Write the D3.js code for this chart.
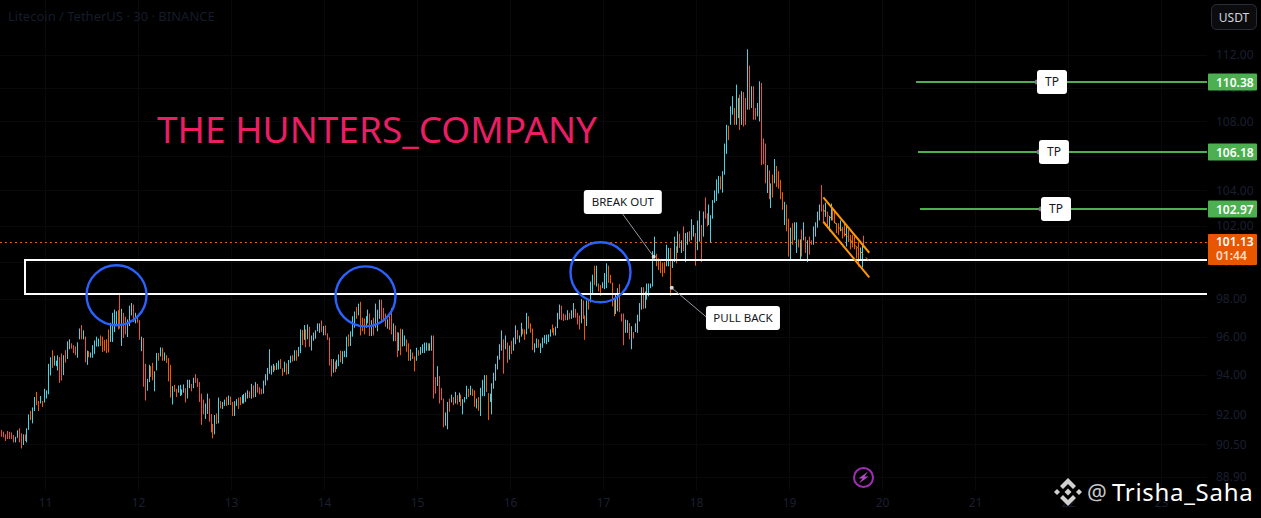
<!DOCTYPE html>
<html lang="en">
<head>
    <meta charset="UTF-8">
    <title>Litecoin / TetherUS - THE HUNTERS_COMPANY</title>
    <script src="https://d3js.org/d3.v7.min.js"></script>
    <style>
        html, body { margin: 0; padding: 0; background: #000; overflow: hidden; }
        svg { display: block; }
        text { font-family: "Noto Sans", sans-serif; }
        .axis text { fill: #1a1f30; font-size: 12px; }
        .axis path, .axis line { display: none; }
        .grid line { stroke: #08090c; stroke-width: 1px; shape-rendering: crispEdges; }
    </style>
</head>
<body>
    <div id="chart"></div>
    <script>
        // 30 minute bars, oldest first
        var barHigh = [
            91.22,91.13,91.00,91.17,91.13,91.10,90.97,90.88,91.20,91.30,
            91.05,91.00,91.00,91.30,92.00,92.18,92.35,92.88,93.14,92.68,
            92.93,92.68,93.30,93.22,94.58,94.92,95.29,95.00,94.75,95.02,
            94.93,95.12,95.03,95.29,95.75,95.86,95.65,95.55,95.49,95.70,
            96.43,96.61,96.33,96.00,95.27,95.24,95.17,95.55,95.80,96.00,
            95.90,96.06,96.00,95.83,95.86,96.38,96.73,97.26,97.43,97.34,
            97.40,98.27,97.47,97.26,97.05,96.91,97.64,97.78,97.70,97.26,
            97.14,96.87,96.00,95.93,94.58,93.81,94.53,94.46,94.63,94.20,
            95.14,95.14,95.44,95.42,95.17,95.03,94.88,94.53,93.44,93.50,
            93.30,93.47,93.50,93.27,93.52,93.33,93.76,93.76,93.55,93.86,
            94.05,93.84,93.64,93.05,92.75,92.55,93.05,92.80,92.02,91.52,
            91.97,92.05,92.85,92.67,92.63,92.75,92.88,92.95,92.90,92.63,
            92.67,92.77,92.85,92.88,92.97,93.03,93.10,93.22,93.17,93.55,
            93.47,93.64,93.55,93.38,93.30,93.72,94.05,94.37,95.34,94.49,
            94.58,94.49,94.63,94.75,94.83,94.35,94.69,94.61,94.78,95.00,
            95.03,95.29,95.29,95.46,96.38,96.35,96.61,96.38,96.64,96.52,
            96.06,96.21,96.33,96.70,96.70,96.85,96.56,96.59,96.17,95.96,
            94.83,94.83,94.70,94.80,95.07,95.27,95.24,95.26,96.00,96.12,
            96.28,97.08,97.33,97.57,97.75,97.85,97.00,96.96,97.08,97.43,
            97.22,96.87,97.00,97.75,97.43,97.96,97.96,97.52,97.22,96.91,
            97.08,97.52,96.70,96.59,96.24,96.21,96.42,96.38,96.06,95.86,
            95.65,95.34,95.17,94.97,95.42,95.29,95.46,95.60,95.69,95.69,
            95.65,95.65,96.06,96.06,93.90,94.46,93.95,93.33,92.80,92.10,
            92.63,92.80,93.00,92.88,93.14,92.97,93.10,93.00,92.77,92.88,
            93.45,93.30,93.45,93.30,93.22,92.80,92.88,93.35,93.76,94.00,
            94.00,93.08,93.05,93.58,94.12,94.58,95.00,95.60,96.33,95.86,
            96.06,95.69,95.53,95.78,95.95,96.59,96.35,96.06,96.73,96.42,
            96.38,97.26,97.08,96.70,96.42,95.65,95.90,95.86,95.65,95.95,
            96.08,96.10,96.12,96.38,96.64,96.45,96.52,97.26,97.70,97.64,
            97.22,97.17,97.40,97.26,97.40,97.78,97.47,97.26,97.12,98.00,
            97.92,97.12,97.92,97.92,98.94,99.31,
            99.80,99.80,98.83,98.75,98.90,99.40,99.93,99.80,99.30,98.88,
            97.96,98.30,98.58,98.80,97.22,97.22,96.90,96.87,96.72,96.55,
            96.24,96.70,97.16,97.78,98.63,98.63,98.40,98.83,98.83,98.83,
            100.60,101.40,100.45,100.20,100.10,99.97,100.00,100.95,100.78,100.78,
            100.10,101.40,100.87,101.70,101.56,101.20,101.97,101.60,101.65,101.70,
            102.37,102.05,101.60,102.30,102.85,102.05,102.80,103.60,102.70,103.20,
            102.60,103.45,104.00,104.63,104.83,104.80,105.10,106.70,107.80,107.75,
            108.90,109.50,108.80,110.20,109.40,109.60,109.80,109.75,109.40,112.35,
            111.35,110.10,110.10,108.80,109.10,110.40,110.30,107.00,106.70,105.45,
            105.15,104.40,104.90,105.80,105.40,105.10,104.60,103.90,103.35,103.20,
            102.40,101.90,102.15,102.20,102.20,101.25,101.25,101.80,102.20,101.40,
            101.20,101.40,101.20,101.97,102.20,102.80,103.20,104.30,103.20,103.30,
            102.80,102.50,103.25,103.00,102.90,102.15,102.15,102.30,101.95,102.20,
            102.00,101.80,101.50,101.50,101.40,100.80,101.10,100.80,101.00,101.45
        ];
        var barLow = [
            90.88,90.85,90.67,90.77,90.77,90.77,90.60,90.60,90.83,90.60,
            90.30,90.47,90.67,90.60,91.22,91.72,91.55,92.17,92.47,92.17,
            92.55,92.37,92.60,92.80,93.02,93.98,94.37,94.49,94.46,94.24,
            93.60,93.72,94.00,94.64,94.83,95.34,95.37,95.14,95.03,94.90,
            95.86,95.86,95.86,94.66,94.53,94.92,94.90,94.90,95.10,95.48,
            95.48,95.51,95.20,95.24,95.14,95.17,95.72,95.72,96.24,96.64,
            96.38,96.42,95.51,95.93,96.12,95.98,96.56,97.12,96.77,96.70,
            96.73,95.83,95.24,93.40,92.70,93.20,93.64,93.91,93.73,93.17,
            94.24,94.74,94.96,94.74,94.74,94.63,93.68,92.85,92.50,93.14,
            92.88,93.10,92.93,92.97,93.10,92.60,92.80,93.33,93.17,93.33,
            93.60,93.38,92.63,91.47,92.00,91.77,92.02,91.63,91.10,90.80,
            91.00,91.52,91.55,92.30,92.27,92.43,92.43,92.47,92.47,91.92,
            91.92,92.43,92.27,92.47,92.55,92.55,92.63,92.80,92.83,92.80,
            92.85,92.88,93.10,93.02,93.02,93.05,93.47,93.73,94.07,94.02,
            94.15,94.24,94.27,94.29,94.32,93.96,94.15,94.02,94.05,94.63,
            94.70,94.74,94.74,94.96,95.14,95.55,95.83,95.44,95.86,95.46,
            95.27,95.78,95.89,96.28,96.20,96.24,96.07,96.07,95.83,94.49,
            93.93,94.12,94.15,94.32,94.46,94.66,94.58,94.93,94.92,95.48,
            95.51,96.00,96.47,96.94,97.12,96.06,96.29,96.12,96.47,96.70,
            96.03,96.03,96.06,96.47,96.28,96.94,96.73,96.80,96.52,96.42,
            96.35,96.12,95.76,95.76,94.93,95.26,95.03,95.48,95.51,95.21,
            94.74,94.74,94.83,94.19,94.74,95.00,95.05,95.14,95.14,95.26,
            95.26,95.26,95.26,92.80,93.05,93.44,92.55,92.72,91.35,91.43,
            91.25,92.13,92.60,92.47,92.55,92.50,92.63,92.43,92.00,92.60,
            92.77,92.88,92.97,92.93,92.38,92.30,92.18,91.92,92.92,92.92,
            93.14,91.72,92.63,92.00,93.30,93.71,94.29,94.80,95.26,94.07,
            95.34,94.63,94.80,95.09,95.26,95.60,95.86,95.69,96.00,96.12,
            95.83,96.12,96.42,96.21,95.30,95.17,95.41,95.42,95.14,95.42,
            95.65,95.60,95.72,96.00,96.21,96.06,96.06,96.45,96.91,96.87,
            96.82,96.87,96.87,96.91,96.94,97.00,97.00,96.64,96.38,96.70,
            96.94,95.83,96.56,97.43,97.82,98.31,
            98.75,98.67,98.40,98.17,98.58,98.53,98.58,98.87,98.83,97.60,
            97.08,97.20,97.34,97.29,96.80,95.55,96.20,96.20,95.86,95.34,
            95.90,96.24,96.20,96.80,97.43,97.47,97.50,97.96,98.14,98.58,
            98.67,100.20,99.77,99.57,99.40,99.20,99.40,99.77,99.77,98.17,
            99.68,100.00,99.93,100.50,100.78,100.50,100.60,100.00,100.95,101.12,
            101.20,101.40,99.80,100.65,101.12,100.00,101.40,102.40,101.97,102.05,
            101.07,102.40,103.30,103.40,103.83,104.05,103.87,104.90,106.10,106.90,
            107.80,108.40,107.80,107.80,108.20,107.50,107.80,107.70,107.80,108.70,
            108.70,108.80,108.10,108.10,108.30,108.00,105.45,105.50,104.40,103.85,
            103.50,103.00,103.60,104.40,104.20,104.10,103.50,102.90,102.05,101.70,
            100.30,100.10,100.95,101.20,100.50,100.80,100.10,100.30,101.20,100.50,
            100.00,100.40,100.95,100.95,101.40,101.90,102.30,102.80,102.20,102.50,
            101.90,101.70,102.30,102.30,102.15,101.60,101.50,101.70,101.30,101.40,
            100.85,101.10,100.70,100.80,100.70,100.20,99.75,100.10,99.70,100.80
        ];
        // 1 = rising bar (cyan), 0 = falling bar (orange)
        var barUp = [
            0,0,0,0,0,0,0,1,1,0, 0,1,0,1,1,0,1,1,0,0, 1,0,1,1,1,1,0,1,1,1,
            0,0,1,0,1,1,0,0,0,1, 1,0,1,0,1,0,1,1,1,1, 1,0,0,0,0,0,1,1,1,1,
            0,0,1,0,0,1,1,1,0,1, 0,0,1,0,0,1,1,0,0,1, 1,0,1,0,1,0,0,0,1,0,
            0,1,1,1,1,0,1,1,0,1, 0,0,0,0,0,1,1,0,0,0, 1,0,1,0,1,1,0,1,0,0,
            1,1,0,0,1,1,1,1,0,1, 0,1,0,0,0,1,1,1,1,1, 1,0,1,1,0,0,1,0,1,1,
            0,1,0,1,1,0,1,0,1,0, 1,1,1,1,1,0,1,0,0,0,
            0,1,0,1,1,0,1,1,1,0, 1,1,1,0,1,0,0,0,1,1, 0,1,0,1,1,1,0,0,0,1,
            0,0,1,0,0,1,0,1,1,0, 0,1,0,0,1,0,1,1,1,1, 0,1,1,0,0,1,0,0,0,1,
            1,0,1,0,1,0,1,0,1,1, 1,0,1,0,0,1,0,1,1,1, 0,0,1,1,1,1,1,1,1,0,
            1,0,1,0,1,1,0,1,1,0, 0,1,0,0,0,1,1,0,1,1, 1,1,1,1,0,0,1,1,1,0,
            0,0,1,0,1,1,0,0,0,1, 0,0,1,0,1,1,
            0,1,0,0,1,1,1,0,0,0, 0,1,1,0,0,0,1,1,0,1, 0,1,1,1,1,0,1,1,1,1,
            1,1,0,0,0,0,0,1,1,0, 1,1,0,1,0,1,0,1,1,0, 1,1,0,1,1,0,1,0,0,1,
            1,1,1,1,1,0,1,1,1,0, 1,1,0,1,1,0,1,0,0,1, 0,1,0,0,1,1,0,0,0,1,
            0,1,0,1,0,0,0,0,1,0, 0,1,0,1,1,0,1,0,1,0, 1,0,0,1,1,1,1,0,0,1,
            0,1,1,0,0,0,0,1,0,0, 1,0,0,0,0,0,0,1,1,0
        ];
        var firstBarDay = 10.53;
        var barStep = 1 / 48;

        var dayTicks = [11, 12, 13, 14, 15, 16, 17, 18, 19, 20, 21, 22, 23];
        var priceTicks = [112, 110, 108, 106, 104, 102, 100, 98, 96, 94, 92, 90.5, 88.9];

        var lastPrice = 101.13;
        var lastCountdown = "01:44";

        // support zone drawn as a rectangle
        var zoneDays = [10.785, 23.6];
        var zonePrices = [100.1, 98.28];

        // blue circles on the resistance touches
        var circleDays = [11.769, 14.446, 16.973];
        var circlePrices = [98.2, 98.14, 99.44];

        // take profit lines
        var tpPrices = [110.38, 106.18, 102.97];
        var tpStartDays = [20.366, 20.387, 20.409];
        var tpLabelDays = [21.828, 21.849, 21.871];

        // falling channel: upper, lower, middle
        var channelDays = [19.369, 19.863];
        var channelUpper = [103.6, 100.51];
        var channelLower = [102.23, 99.17];
        var channelMiddle = [102.91, 100.05];

        var calloutText = ["BREAK OUT", "PULL BACK"];
        var calloutTargetDays = [17.545, 17.739];
        var calloutTargetPrices = [100.29, 98.6];
        var calloutAnchorDays = [17.212, 18.108];
        var calloutAnchorPrices = [102.66, 97.05];
        var calloutBoxDays = [17.213, 18.505];
        var calloutBoxPrices = [103.34, 96.98];
        var calloutBoxWidths = [78, 74];

        var width = 1261, height = 518;
        var plotRight = 1207;

        var svg = d3.select("#chart")
          .append("svg")
            .attr("width", width)
            .attr("height", height)
            .style("background", "#000");

        // the price axis is logarithmic on this chart
        var x = d3.scaleLinear().domain([11, 23]).range([45, 1161]);
        var y = d3.scaleLog().domain([112, 88.9]).range([55, 477]);

        svg.append("clipPath")
            .attr("id", "plot")
          .append("rect")
            .attr("width", plotRight)
            .attr("height", height);

        // grid
        var grid = svg.append("g").attr("class", "grid");
        grid.selectAll(".v")
            .data(dayTicks)
            .enter().append("line")
            .attr("x1", d => Math.round(x(d)) + 0.5)
            .attr("x2", d => Math.round(x(d)) + 0.5)
            .attr("y1", 0)
            .attr("y2", 490);
        grid.selectAll(".h")
            .data(priceTicks)
            .enter().append("line")
            .attr("x1", 0)
            .attr("x2", plotRight)
            .attr("y1", d => Math.round(y(d)) + 0.5)
            .attr("y2", d => Math.round(y(d)) + 0.5);

        // axes
        svg.append("g")
            .attr("class", "axis")
            .attr("transform", "translate(0,490)")
            .call(d3.axisBottom(x).tickValues(dayTicks).tickSize(0).tickPadding(8).tickFormat(d3.format("d")));

        svg.append("g")
            .attr("class", "axis")
            .attr("transform", "translate(1208,0)")
            .call(d3.axisRight(y).tickValues(priceTicks).tickSize(0).tickPadding(8).tickFormat(d3.format(".2f")));

        // chart legend
        svg.append("text")
            .attr("x", 8)
            .attr("y", 21)
            .attr("fill", "#161b2c")
            .style("font-size", "13px")
            .text("Litecoin / TetherUS · 30 · BINANCE");

        // last price dotted line
        svg.append("line")
            .attr("x1", 0)
            .attr("x2", plotRight)
            .attr("y1", Math.round(y(lastPrice)) + 0.5)
            .attr("y2", Math.round(y(lastPrice)) + 0.5)
            .attr("stroke", "#ef5a00")
            .attr("stroke-width", 1)
            .attr("stroke-dasharray", "2 3")
            .style("shape-rendering", "crispEdges");

        // bars
        svg.append("g")
            .selectAll("rect")
            .data(barHigh)
            .enter().append("rect")
            .attr("x", (d, i) => Math.round(x(firstBarDay + i * barStep)))
            .attr("y", d => y(d))
            .attr("width", 1)
            .attr("height", (d, i) => y(barLow[i]) - y(d))
            .attr("fill", (d, i) => barUp[i] ? "#4dd0e1" : "#f05a00");

        var overlay = svg.append("g").attr("clip-path", "url(#plot)");

        // zone
        overlay.append("rect")
            .attr("x", Math.round(x(zoneDays[0])))
            .attr("y", Math.round(y(zonePrices[0])))
            .attr("width", Math.round(x(zoneDays[1]) - x(zoneDays[0])))
            .attr("height", Math.round(y(zonePrices[1]) - y(zonePrices[0])))
            .attr("fill", "none")
            .attr("stroke", "#fff")
            .attr("stroke-width", 2);

        // circles
        overlay.selectAll(".touch")
            .data(circleDays)
            .enter().append("circle")
            .attr("cx", d => x(d))
            .attr("cy", (d, i) => y(circlePrices[i]))
            .attr("r", 30)
            .attr("fill", "none")
            .attr("stroke", "#2962ff")
            .attr("stroke-width", 2.4);

        // channel
        [channelUpper, channelLower].forEach(function(c) {
            overlay.append("line")
                .attr("x1", x(channelDays[0]))
                .attr("x2", x(channelDays[1]))
                .attr("y1", y(c[0]))
                .attr("y2", y(c[1]))
                .attr("stroke", "#ff9800")
                .attr("stroke-width", 2);
        });
        overlay.append("line")
            .attr("x1", x(channelDays[0]))
            .attr("x2", x(channelDays[1]))
            .attr("y1", y(channelMiddle[0]))
            .attr("y2", y(channelMiddle[1]))
            .attr("stroke", "#ff9800")
            .attr("stroke-width", 1)
            .attr("stroke-dasharray", "4 4");

        // TP lines with their note boxes
        tpPrices.forEach(function(p, i) {
            var ly = Math.round(y(p));
            overlay.append("line")
                .attr("x1", x(tpStartDays[i]))
                .attr("x2", plotRight)
                .attr("y1", ly)
                .attr("y2", ly)
                .attr("stroke", "#4caf50")
                .attr("stroke-width", 2);
            var cx = x(tpLabelDays[i]);
            var cy = ly;
            overlay.append("circle")
                .attr("cx", cx - 15)
                .attr("cy", cy)
                .attr("r", 2.5)
                .attr("fill", "#787b86");
            overlay.append("rect")
                .attr("x", cx - 15)
                .attr("y", cy - 12)
                .attr("width", 30)
                .attr("height", 24)
                .attr("rx", 3)
                .attr("fill", "#fff");
            overlay.append("text")
                .attr("x", cx)
                .attr("y", cy + 4)
                .attr("text-anchor", "middle")
                .attr("fill", "#131722")
                .style("font-size", "12px")
                .text("TP");
        });

        // callouts
        calloutText.forEach(function(t, i) {
            var tx = x(calloutTargetDays[i]), ty = y(calloutTargetPrices[i]);
            var cx = x(calloutBoxDays[i]), cy = y(calloutBoxPrices[i]);
            overlay.append("line")
                .attr("x1", tx)
                .attr("y1", ty)
                .attr("x2", x(calloutAnchorDays[i]))
                .attr("y2", y(calloutAnchorPrices[i]))
                .attr("stroke", "#9598a1")
                .attr("stroke-width", 1);
            overlay.append("circle")
                .attr("cx", tx)
                .attr("cy", ty)
                .attr("r", 2)
                .attr("fill", "#d8d8d8");
            overlay.append("rect")
                .attr("x", cx - calloutBoxWidths[i] / 2)
                .attr("y", cy - 12)
                .attr("width", calloutBoxWidths[i])
                .attr("height", 24)
                .attr("rx", 3)
                .attr("fill", "#fff");
            overlay.append("text")
                .attr("x", cx)
                .attr("y", cy + 4)
                .attr("text-anchor", "middle")
                .attr("fill", "#131722")
                .style("font-size", "11.5px")
                .text(t);
        });

        // big title
        svg.append("text")
            .attr("x", 157)
            .attr("y", 143)
            .attr("fill", "#e91e63")
            .style("font-size", "37px")
            .text("THE HUNTERS_COMPANY");

        // price labels on the axis
        tpPrices.forEach(function(p) {
            svg.append("rect")
                .attr("x", 1208)
                .attr("y", Math.round(y(p)) - 8.5)
                .attr("width", 49)
                .attr("height", 17)
                .attr("rx", 1)
                .attr("fill", "#4caf50");
            svg.append("text")
                .attr("x", 1216)
                .attr("y", Math.round(y(p)) + 4.5)
                .attr("fill", "#fff")
                .style("font-size", "12px")
                .style("font-weight", "600")
                .text(d3.format(".2f")(p));
        });
        svg.append("rect")
            .attr("x", 1208)
            .attr("y", y(lastPrice) - 7.5)
            .attr("width", 49)
            .attr("height", 31)
            .attr("rx", 1)
            .attr("fill", "#e85600");
        svg.append("text")
            .attr("x", 1216)
            .attr("y", y(lastPrice) + 4.5)
            .attr("fill", "#fff")
            .style("font-size", "12px")
            .style("font-weight", "600")
            .text(d3.format(".2f")(lastPrice));
        svg.append("text")
            .attr("x", 1216)
            .attr("y", y(lastPrice) + 18.5)
            .attr("fill", "#fff")
            .attr("fill-opacity", 0.8)
            .style("font-size", "12px")
            .style("font-weight", "600")
            .text(lastCountdown);

        // currency button
        svg.append("rect")
            .attr("x", 1211.5)
            .attr("y", 4.5)
            .attr("width", 45)
            .attr("height", 25)
            .attr("rx", 5)
            .attr("fill", "#0c0c0f")
            .attr("stroke", "#2a2e39");
        svg.append("text")
            .attr("x", 1234)
            .attr("y", 21.5)
            .attr("text-anchor", "middle")
            .attr("fill", "#d1d4dc")
            .style("font-size", "12px")
            .text("USDT");

        // lightning badge
        var bolt = svg.append("g").attr("transform", "translate(863.5,477.5)");
        bolt.append("circle")
            .attr("r", 9.5)
            .attr("fill", "none")
            .attr("stroke", "#a32cb8")
            .attr("stroke-width", 2);
        bolt.append("path")
            .attr("d", "M4.5,-6 L-5,1 L-1,1 L-4.5,6 L5,-1 L1,-1 Z")
            .attr("fill", "#b04ac4");

        // watermark
        var mark = svg.append("g")
            .attr("transform", "translate(1068,492)")
            .attr("fill", "#d0d0d0");
        mark.append("path").attr("d", "M0,-14 L8,-6 L5,-3 L0,-8 L-5,-3 L-8,-6 Z");
        mark.append("path").attr("d", "M0,14 L8,6 L5,3 L0,8 L-5,3 L-8,6 Z");
        mark.append("path").attr("d", "M0,-3.5 L3.5,0 L0,3.5 L-3.5,0 Z");
        mark.append("path").attr("d", "M-11,-3 L-8,0 L-11,3 L-14,0 Z");
        mark.append("path").attr("d", "M11,-3 L14,0 L11,3 L8,0 Z");

        svg.append("text")
            .attr("x", 1087)
            .attr("y", 500)
            .attr("fill", "#c8c8c8")
            .style("font-size", "22px")
            .text("@");
        svg.append("text")
            .attr("x", 1112)
            .attr("y", 501)
            .attr("fill", "#fff")
            .style("font-size", "24px")
            .style("letter-spacing", "0.7px")
            .text("Trisha_Saha");
    </script>
</body>
</html>
